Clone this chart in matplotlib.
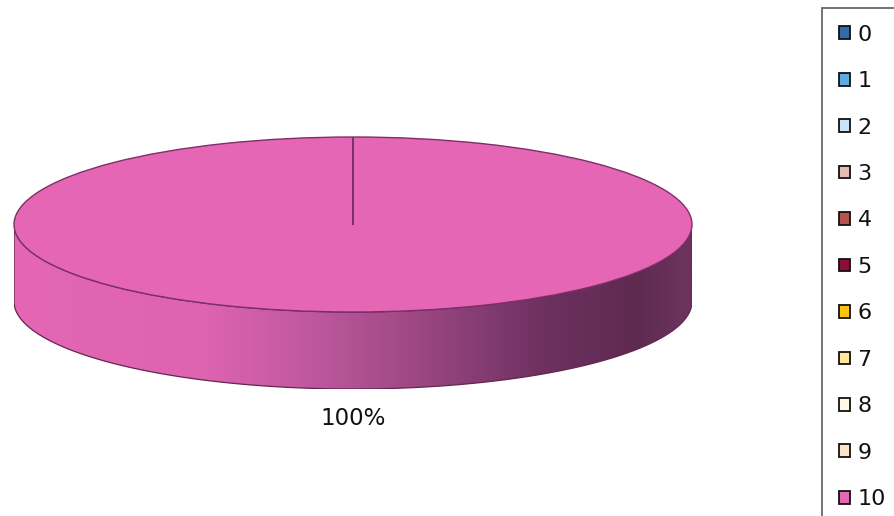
import numpy as np
import matplotlib
matplotlib.use("Agg")
import matplotlib.pyplot as plt
from matplotlib.patches import Patch, Polygon
from matplotlib.colors import LinearSegmentedColormap

categories = ["0", "1", "2", "3", "4", "5", "6", "7", "8", "9", "10"]
values = [0, 0, 0, 0, 0, 0, 0, 0, 0, 0, 100]
colors = ["#2E6DA8", "#5BACDF", "#C8E3FA", "#E5BDB2", "#B8524F", "#8A0E35",
          "#FFC20E", "#FFE89A", "#FFF9E3", "#FBE2CB", "#E466B4"]

W, H = 894, 516
fig = plt.figure(figsize=(W / 100, H / 100), dpi=100)

# pie axes: x in [-1,1] -> pixels 14..692 ; y: 1 unit = 87.5 px
x0, x1 = 14, 692
ytop = 137
unit_y = 87.5
depth = 0.88
ybot_units = -1 - depth
pix_bottom = ytop + (1 - ybot_units) * unit_y
ax = fig.add_axes([x0 / W, 1 - pix_bottom / H, (x1 - x0) / W, (pix_bottom - ytop) / H])

def pct(p):
    return f"{p:.0f}%" if p > 0 else ""

wedges, texts, autotexts = ax.pie(values, colors=colors, startangle=90, counterclock=False,
                                  autopct=pct, pctdistance=2.22,
                                  wedgeprops=dict(edgecolor="#7E2F68", linewidth=1.0),
                                  textprops=dict(fontsize=16.5, color="#111111"))
for w, v in zip(wedges, values):
    w.set_zorder(5 if v > 0 else 6)
for t in autotexts:
    t.set_zorder(7)
ax.set_aspect("auto")
ax.set_xlim(-1, 1)
ax.set_ylim(ybot_units, 1)
ax.set_axis_off()

# side band of the 3D pie (front half of the ellipse extruded downward)
t = np.linspace(np.pi, 2 * np.pi, 300)
top = np.column_stack([np.cos(t), np.sin(t)])
bot = np.column_stack([np.cos(t[::-1]), np.sin(t[::-1]) - depth])
poly = Polygon(np.vstack([top, bot]), closed=True, facecolor="none",
               edgecolor="#62264F", linewidth=0.9, zorder=3)
ax.add_patch(poly)
cmap = LinearSegmentedColormap.from_list("side", [
    (0.0, "#E466B4"), (0.28, "#DE63B1"), (0.45, "#BC579D"),
    (0.6, "#9C4782"), (0.78, "#6E3160"), (0.92, "#5E2A50"), (1.0, "#6E3460")])
grad = np.linspace(0, 1, 512).reshape(1, -1)
im = ax.imshow(grad, cmap=cmap, extent=[-1, 1, ybot_units, 0.0], aspect="auto",
               zorder=2, interpolation="bilinear")
im.set_clip_path(poly)
ax.set_xlim(-1, 1)
ax.set_ylim(ybot_units, 1)

# legend
handles = [Patch(facecolor=c, edgecolor="#111111", linewidth=1.3) for c in colors]
leg = fig.legend(handles, categories, loc="upper left",
                 bbox_to_anchor=(822 / W, 1 - 8 / H), bbox_transform=fig.transFigure,
                 borderaxespad=0, frameon=True, fancybox=False,
                 fontsize=16, handlelength=0.5, handleheight=0.5,
                 handletextpad=0.35, labelspacing=1.19, borderpad=0.75)
leg.get_frame().set_edgecolor("#444444")
leg.get_frame().set_linewidth(1.3)
for txt in leg.get_texts():
    txt.set_color("#111111")

fig.savefig("out.png", dpi=100)
